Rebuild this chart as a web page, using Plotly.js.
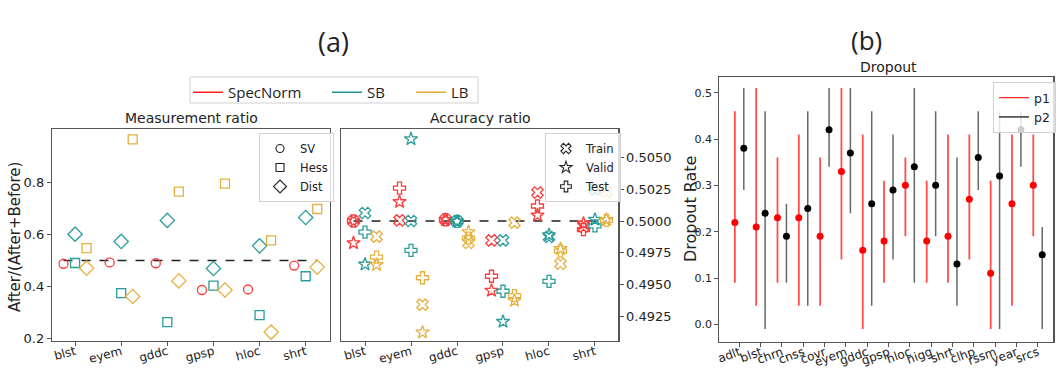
<!DOCTYPE html>
<html><head><meta charset="utf-8">
<script src="https://cdn.plot.ly/plotly-3.0.1.min.js"></script>
<style>html,body{margin:0;padding:0;background:#fff}#chart{width:1057px;height:368px}</style>
</head><body><div id="chart"></div>
<script>
// ---------- Panel (a) data ----------
const datasetsA = ['blst','eyem','gddc','gpsp','hloc','shrt'];
// Measurement ratio
const svSpecNorm = [0.487,0.492,0.489,0.386,0.388,0.480];
const hessSB     = [0.490,0.374,0.262,0.403,0.289,0.439];
const distSB     = [0.601,0.573,0.654,0.469,0.556,0.665];
const hessLB     = [0.547,0.966,0.765,0.796,0.577,0.698];
const distLB     = [0.470,0.361,0.421,0.386,0.224,0.474];
// Accuracy ratio
const trainSpecNorm = [0.5000,0.50005,0.5001,0.49848,0.50224,0.49958];
const validSpecNorm = [0.49827,0.50150,0.5001,0.49453,0.50045,0.4998];
const testSpecNorm  = [0.5000,0.50258,0.5001,0.49566,0.50118,0.49932];
const trainSB = [0.50063,0.5000,0.49997,0.49848,0.49874,0.50248];
const validSB = [0.49659,0.50644,0.49997,0.49209,0.49890,0.50011];
const testSB  = [0.49913,0.49769,0.49997,0.49448,0.49525,0.49961];
const trainLB = [0.49877,0.49343,0.49827,0.49987,0.49664,0.50229];
const validLB = [0.49656,0.49125,0.49913,0.49375,0.49782,0.50010];
const testLB  = [0.49716,0.49554,0.49866,0.49414,0.49763,0.50005];
const accTicks = [0.4925,0.4950,0.4975,0.5000,0.5025,0.5050];
const measTicks = [0.2,0.4,0.6,0.8];

// ---------- Panel (b) data ----------
const datasetsB = ['adlt','blst','chrn','cnss','covr','eyem','gddc','gpsp','hloc','higg','shrt','clhp','rssm','year','srcs'];
const p1     = [0.22,0.21,0.23,0.23,0.19,0.33,0.16,0.18,0.30,0.18,0.19,0.27,0.11,0.26,0.30];
const p1Low  = [0.09,0.04,0.09,0.04,0.04,0.14,-0.01,0.09,0.19,0.09,0.09,0.14,-0.01,0.04,0.19];
const p1High = [0.46,0.51,0.36,0.41,0.36,0.51,0.41,0.31,0.36,0.31,0.41,0.41,0.31,0.41,0.41];
const p2     = [0.38,0.24,0.19,0.25,0.42,0.37,0.26,0.29,0.34,0.30,0.13,0.36,0.32,0.42,0.15];
const p2Low  = [0.29,-0.01,0.09,0.04,0.34,0.24,0.04,0.14,0.09,0.19,0.04,0.29,-0.01,0.34,-0.01];
const p2High = [0.51,0.46,0.26,0.46,0.51,0.51,0.46,0.41,0.51,0.46,0.36,0.46,0.46,0.46,0.21];
const dropTicks = [0.0,0.1,0.2,0.3,0.4,0.5];

// ---------- styles ----------
const RED = '#ff3b3b', TEAL = '#2a9d9b', GOLD = '#e6b040';
const FONT = 'DejaVu Sans, sans-serif';
const OPEN = 'Open Sans, Noto Sans, sans-serif';
const W = 1057, H = 368;
const px = v => v / W, py = v => 1 - v / H;

function pts(vals, off, symbol, color, size, xa, ya) {
  return {x: vals.map((_, i) => i + off), y: vals, mode: 'markers', type: 'scatter',
    marker: {symbol: symbol, size: size, color: color, line: {color: color, width: 1.3}},
    xaxis: xa, yaxis: ya, showlegend: false, hoverinfo: 'skip'};
}
function legMarker(name, symbol, leg, size) {
  return {x: [null], y: [null], mode: 'markers', type: 'scatter', name: name, legend: leg,
    marker: {symbol: symbol, size: size, color: '#222', line: {color: '#222', width: 1.1}}, xaxis: 'x', yaxis: 'y'};
}
function legLine(name, color, leg, width, xa, ya) {
  return {x: [null], y: [null], mode: 'lines', type: 'scatter', name: name, legend: leg,
    line: {color: color, width: width}, xaxis: xa, yaxis: ya};
}

const traces = [
  // measurement ratio
  pts(svSpecNorm, -0.25, 'circle-open', RED, 9, 'x', 'y'),
  pts(hessSB, 0, 'square-open', TEAL, 9, 'x', 'y'),
  pts(distSB, 0, 'diamond-open', TEAL, 11, 'x', 'y'),
  pts(hessLB, 0.25, 'square-open', GOLD, 9, 'x', 'y'),
  pts(distLB, 0.25, 'diamond-open', GOLD, 11, 'x', 'y'),
  // accuracy ratio
  pts(trainSpecNorm, -0.25, 'x-open', RED, 10, 'x2', 'y2'),
  pts(validSpecNorm, -0.25, 'star-open', RED, 10, 'x2', 'y2'),
  pts(testSpecNorm, -0.25, 'cross-open', RED, 10, 'x2', 'y2'),
  pts(trainSB, 0, 'x-open', TEAL, 10, 'x2', 'y2'),
  pts(validSB, 0, 'star-open', TEAL, 10, 'x2', 'y2'),
  pts(testSB, 0, 'cross-open', TEAL, 10, 'x2', 'y2'),
  pts(trainLB, 0.25, 'x-open', GOLD, 10, 'x2', 'y2'),
  pts(validLB, 0.25, 'star-open', GOLD, 10, 'x2', 'y2'),
  pts(testLB, 0.25, 'cross-open', GOLD, 10, 'x2', 'y2'),
  // dropout
  {x: p1.map((_, i) => i - 0.21), y: p1, type: 'scatter', mode: 'markers', xaxis: 'x3', yaxis: 'y3',
   marker: {color: '#ff0000', size: 7}, showlegend: false, hoverinfo: 'skip',
   error_y: {type: 'data', symmetric: false, array: p1High.map((h, i) => h - p1[i]),
     arrayminus: p1.map((v, i) => v - p1Low[i]), color: 'rgba(255,0,0,0.7)', thickness: 1.8, width: 0}},
  {x: p2.map((_, i) => i + 0.21), y: p2, type: 'scatter', mode: 'markers', xaxis: 'x3', yaxis: 'y3',
   marker: {color: '#000000', size: 7}, showlegend: false, hoverinfo: 'skip',
   error_y: {type: 'data', symmetric: false, array: p2High.map((h, i) => h - p2[i]),
     arrayminus: p2.map((v, i) => v - p2Low[i]), color: 'rgba(40,40,40,0.7)', thickness: 1.5, width: 0}},
  // legends
  legLine('SpecNorm', '#ff2020', 'legend', 1.5, 'x', 'y'),
  legLine('SB', '#1f9590', 'legend5', 1.5, 'x', 'y'),
  legLine('LB', '#e0ac35', 'legend6', 1.5, 'x', 'y'),
  legMarker('SV', 'circle-open', 'legend2', 8),
  legMarker('Hess', 'square-open', 'legend2', 8),
  legMarker('Dist', 'diamond-open', 'legend2', 10),
  legMarker('Train', 'x-open', 'legend3', 9),
  legMarker('Valid', 'star-open', 'legend3', 9),
  legMarker('Test', 'cross-open', 'legend3', 9),
  legLine('p1', '#ff3030', 'legend4', 1.3, 'x3', 'y3'),
  legLine('p2', '#555555', 'legend4', 1.8, 'x3', 'y3')
];

const axBase = {showline: true, mirror: true, linecolor: '#555', linewidth: 1.2,
  ticks: 'outside', ticklen: 4, tickcolor: '#555', tickwidth: 1, showgrid: false, zeroline: false,
  tickfont: {family: FONT, size: 12, color: '#222'}};

const legBase = {bgcolor: 'rgba(255,255,255,0.8)', bordercolor: '#d0d0d0', borderwidth: 1,
  xanchor: 'left', yanchor: 'top', itemsizing: 'trace', tracegroupgap: 0};
const legTop = {bgcolor: 'rgba(0,0,0,0)', borderwidth: 0, xanchor: 'left', yanchor: 'top',
  itemwidth: 30, font: {family: OPEN, size: 15, color: '#222'}};

function ann(text, x, y, size, family, angle) {
  return {text: text, x: px(x), y: py(y), xref: 'paper', yref: 'paper', showarrow: false,
    xanchor: 'center', yanchor: 'middle', textangle: angle || 0, font: {family: family, size: size, color: '#222'}};
}

const layout = {
  width: W, height: H, autosize: false,
  margin: {l: 0, r: 0, t: 0, b: 0, pad: 0},
  paper_bgcolor: '#fff', plot_bgcolor: '#fff',
  font: {family: FONT, color: '#222'},
  xaxis: Object.assign({}, axBase, {domain: [px(52), px(330)], range: [-0.5, 5.527], anchor: 'y',
    tickvals: datasetsA.map((_, i) => i), ticktext: datasetsA, tickangle: -15, ticklabelstandoff: -6}),
  yaxis: Object.assign({}, axBase, {domain: [py(341), py(129)], range: [0.1896, 1.006], anchor: 'x',
    tickvals: measTicks, ticktext: measTicks.map(v => v.toFixed(1)), tickfont: {family: FONT, size: 13, color: '#222'}}),
  xaxis2: Object.assign({}, axBase, {domain: [px(341), px(618.3)], range: [-0.522, 5.507], anchor: 'y2',
    tickvals: datasetsA.map((_, i) => i), ticktext: datasetsA, tickangle: -15, ticklabelstandoff: -6}),
  yaxis2: Object.assign({}, axBase, {domain: [py(341), py(129)], range: [0.49057, 0.50723], anchor: 'x2', side: 'right',
    tickvals: accTicks, ticktext: accTicks.map(v => v.toFixed(4)), tickfont: {family: FONT, size: 13, color: '#222'}}),
  xaxis3: Object.assign({}, axBase, {domain: [px(719.3), px(1053.3)], range: [-0.94, 14.73], anchor: 'y3',
    tickvals: datasetsB.map((_, i) => i), ticktext: datasetsB, tickangle: -20, ticklabelstandoff: -6,
    tickfont: {family: FONT, size: 12, color: '#222'}}),
  yaxis3: Object.assign({}, axBase, {domain: [py(341.7), py(76.7)], range: [-0.0375, 0.5345], anchor: 'x3',
    tickvals: dropTicks, ticktext: dropTicks.map(v => v.toFixed(1)), tickfont: {family: FONT, size: 11, color: '#222'}}),
  shapes: [
    {type: 'line', xref: 'x', yref: 'y', x0: -0.25, x1: 5.25, y0: 0.5, y1: 0.5, layer: 'below',
     line: {color: '#222', width: 1.5, dash: 'dash'}},
    {type: 'line', xref: 'x2', yref: 'y2', x0: -0.25, x1: 5.25, y0: 0.5, y1: 0.5, layer: 'below',
     line: {color: '#222', width: 1.5, dash: 'dash'}},
    {type: 'rect', xref: 'paper', yref: 'paper', x0: px(190), x1: px(478), y0: py(103), y1: py(77),
     line: {color: '#d0d0d0', width: 1}, fillcolor: 'rgba(0,0,0,0)'}
  ],
  legend: Object.assign({}, legTop, {x: px(188), y: py(76)}),
  legend5: Object.assign({}, legTop, {x: px(327), y: py(76)}),
  legend6: Object.assign({}, legTop, {x: px(411), y: py(76)}),
  legend2: Object.assign({}, legBase, {x: px(259), y: py(133), font: {family: FONT, size: 11.5, color: '#222'}}),
  legend3: Object.assign({}, legBase, {x: px(545), y: py(133), font: {family: FONT, size: 11.5, color: '#222'}}),
  legend4: Object.assign({}, legBase, {x: px(993), y: py(82), itemwidth: 30, font: {family: FONT, size: 12.5, color: '#222'}}),
  annotations: [
    ann('(a)', 333, 42, 27, OPEN),
    ann('(b)', 866, 40, 26, OPEN),
    ann('Measurement ratio', 191, 118, 14, FONT),
    ann('Accuracy ratio', 480, 118, 14, FONT),
    ann('Dropout', 888, 67, 14, FONT),
    ann('After/(After+Before)', 15, 237, 15, FONT, -90),
    ann('Dropout Rate', 690, 209, 16, FONT, -90)
  ]
};

Plotly.newPlot('chart', traces, layout, {staticPlot: true, displayModeBar: false});
</script>
</body></html>
